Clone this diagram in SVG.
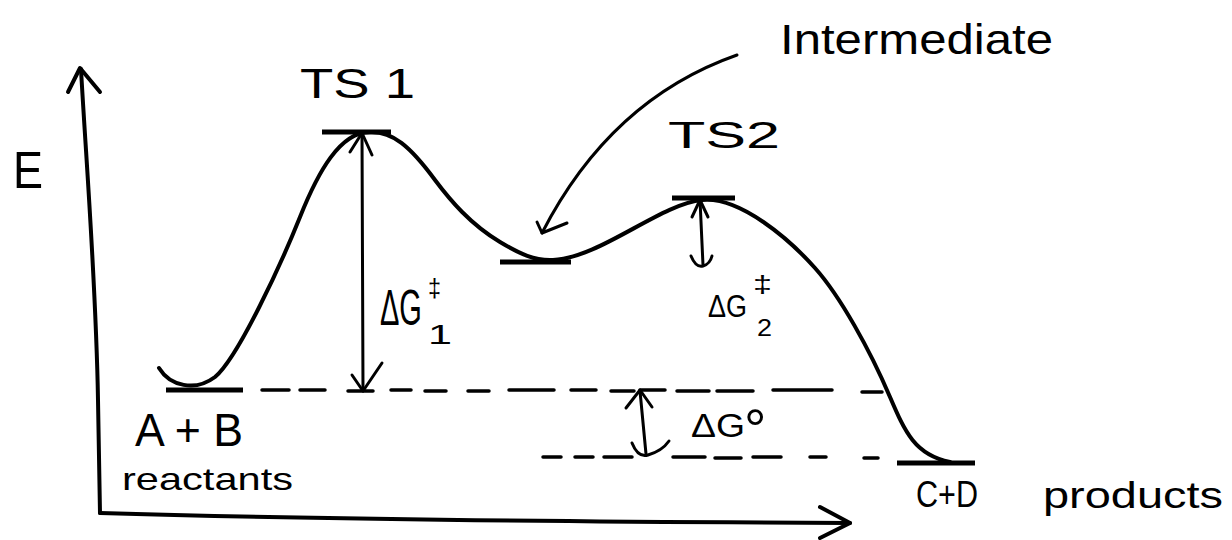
<svg xmlns="http://www.w3.org/2000/svg" width="1232" height="540" viewBox="0 0 1232 540">
<style>
.ln{fill:none;stroke:#000;stroke-width:4;stroke-linecap:round;stroke-linejoin:round}
.bar{fill:none;stroke:#000;stroke-width:5;stroke-linecap:butt}
.dash{fill:none;stroke:#000;stroke-width:3.5;stroke-linecap:round}
.thin{fill:none;stroke:#000;stroke-width:3;stroke-linecap:round;stroke-linejoin:round}
text{font-family:"Liberation Sans","DejaVu Sans",sans-serif;fill:#000}
</style>
<rect width="1232" height="540" fill="#fff"/>
<g id="axes">
<path class="ln" d="M81,69 C86,160 96,280 98,400 L100,513"/>
<path class="ln" d="M68,92 L80,68 L100,92"/>
<path class="ln" d="M100,513 C300,519 600,522 850,523"/>
<path class="ln" d="M820,507 L850,523 L820,538"/>
<text x="13" y="188" font-size="52" textLength="30" lengthAdjust="spacingAndGlyphs">E</text>
</g>
<g id="energy-curve">
<path class="ln" stroke-width="4.5" d="M159,368 C170,386 195,392 215,377 C238,358 282,262 300,217 C318,172 340,132 370,132 C392,131 410,146 435,180 C450,200 470,224 500,242 C520,254 535,261 553,260 C600,258 660,204 702,200 C740,196 790,240 815,268 C840,296 870,350 890,397 C905,432 915,455 950,462"/>
</g>
<g id="reactants">
<line class="bar" x1="166" y1="390" x2="243" y2="390"/>
<text x="135" y="446" font-size="46" textLength="108" lengthAdjust="spacingAndGlyphs">A + B</text>
<text x="122" y="490" font-size="32" textLength="171" lengthAdjust="spacingAndGlyphs">reactants</text>
</g>
<g id="ts1">
<line class="bar" x1="322" y1="132" x2="391" y2="132"/>
<text x="300" y="98" font-size="42" textLength="115" lengthAdjust="spacingAndGlyphs">TS 1</text>
</g>
<g id="intermediate">
<line class="bar" x1="500" y1="262" x2="571" y2="262"/>
<text x="780" y="54" font-size="42" textLength="273" lengthAdjust="spacingAndGlyphs">Intermediate</text>
</g>
<g id="ts2">
<line class="bar" x1="672" y1="198" x2="735" y2="198"/>
<text x="668" y="148" font-size="36" textLength="112" lengthAdjust="spacingAndGlyphs">TS2</text>
</g>
<g id="products">
<line class="bar" x1="897" y1="463" x2="975" y2="463"/>
<text x="916" y="507" font-size="36" textLength="62" lengthAdjust="spacingAndGlyphs">C+D</text>
<text x="1043" y="508" font-size="37" textLength="180" lengthAdjust="spacingAndGlyphs">products</text>
</g>
<g id="dashed-levels">
<path class="dash" d="M262,390 H289 M300,390 H325 M348,391 H373 M391,390 H411 M425,391 H446 M468,391 H489 M509,390 H554 M571,390 H596 M611,391 H634 M640,390 H665 M677,391 H709 M717,391 H753 M773,390 H832 M862,392 H882"/>
<path class="dash" d="M543,457 H561 M575,457 H593 M604,457 H632 M673,457 H705 M715,458 H741 M753,457 H781 M810,457 H826 M864,458 H878"/>
</g>
<g id="connectors">
<path class="thin" d="M362,133 L363,391"/>
<path class="thin" d="M350,152 L362,133 L372,155"/>
<path class="thin" d="M352,375 L363,391 L382,363"/>
<path class="thin" d="M700,200 L703,265"/>
<path class="thin" d="M692,217 L700,200 L708,217"/>
<path class="thin" d="M691,256 Q696,268 703,266 Q710,264 712,256"/>
<path class="thin" d="M640,391 L646,454"/>
<path class="thin" d="M626,408 L640,390 L652,407"/>
<path class="thin" d="M632,443 Q638,458 648,455 Q662,451 669,441"/>
<path class="thin" d="M737,55 C680,75 600,120 542,233"/>
<path class="thin" d="M537,222 L542,233 L567,223"/>
</g>
<g id="label-dg1">
<text transform="translate(380,325) scale(0.58,1)" font-size="50">ΔG</text>
<text transform="translate(428,297) scale(0.9,1)" font-size="26">‡</text>
<text x="428" y="344" font-size="28" textLength="24" lengthAdjust="spacingAndGlyphs">1</text>
</g>
<g id="label-dg2">
<text x="708" y="317" font-size="31" textLength="39" lengthAdjust="spacingAndGlyphs">ΔG</text>
<text x="753" y="292" font-size="24" textLength="19" lengthAdjust="spacingAndGlyphs">‡</text>
<text x="757" y="336" font-size="24" textLength="15" lengthAdjust="spacingAndGlyphs">2</text>
</g>
<g id="label-dg0">
<text x="691" y="437" font-size="33" textLength="54" lengthAdjust="spacingAndGlyphs">ΔG</text>
<text x="744" y="448" font-size="56">°</text>
</g>
</svg>
